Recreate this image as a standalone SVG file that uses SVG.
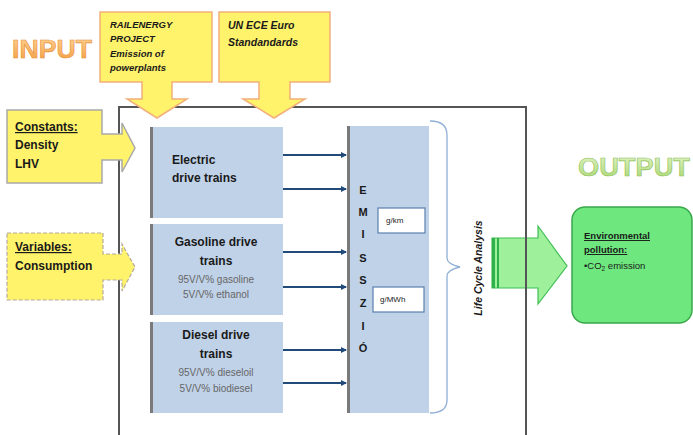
<svg xmlns="http://www.w3.org/2000/svg" width="693" height="435" viewBox="0 0 693 435">
<defs>
<linearGradient id="gIn" x1="0" y1="0" x2="0" y2="1"><stop offset="0" stop-color="#ffd79a"/><stop offset="1" stop-color="#f39a3c"/></linearGradient>
<linearGradient id="gOut" x1="0" y1="0" x2="0" y2="1"><stop offset="0" stop-color="#e4f5c8"/><stop offset="1" stop-color="#a6d66e"/></linearGradient>
<marker id="ah" markerWidth="6" markerHeight="6" refX="5" refY="3" orient="auto" markerUnits="userSpaceOnUse"><path d="M0,0 L6,3 L0,6 z" fill="#1f4a7a"/></marker>
</defs>
<style>
.yel{fill:#fff36b;stroke:#f2b07a;stroke-width:1.5}
.yelg{fill:#fff36b;stroke:#a9a9a9;stroke-width:1.5}
.yeld{fill:#fff36b;stroke:#b5a9a0;stroke-width:1.2;stroke-dasharray:4 2}
.blue{fill:#c0d2e8}
.edge{stroke:#7a7a7a;stroke-width:3}
.t{font-family:"Liberation Sans",Arial,sans-serif;fill:#1a1a1a}
.b{font-weight:bold}
.it{font-style:italic;font-weight:bold}
.g{fill:#666;font-size:10px}
.conn{stroke:#1f4a7a;stroke-width:1.8;fill:none}
</style>
<rect width="693" height="435" fill="#ffffff"/>

<!-- main frame -->
<path d="M119,435 V107 H526 V435" fill="none" stroke="#555" stroke-width="2"/>

<text x="12" y="58" font-family="Liberation Sans,Arial,sans-serif" font-weight="bold" font-size="26" textLength="80" lengthAdjust="spacingAndGlyphs" fill="url(#gIn)" stroke="#e8903a" stroke-width="0.6">INPUT</text>
<text x="578" y="176" font-family="Liberation Sans,Arial,sans-serif" font-weight="bold" font-size="26" textLength="112" lengthAdjust="spacingAndGlyphs" fill="url(#gOut)" stroke="#8fbf5a" stroke-width="0.6">OUTPUT</text>

<g id="railenergy">
<path class="yel" d="M100,12 H212 V82 H172 V99 H187 L157,118 L127,99 H142 V82 H100 Z"/>
<text class="t it" font-size="9.5"><tspan x="110" y="28">RAILENERGY</tspan><tspan x="110" y="42">PROJECT</tspan><tspan x="110" y="57">Emission of</tspan><tspan x="110" y="71">powerplants</tspan></text>
</g>
<g id="unece">
<path class="yel" d="M219,12 H330 V82 H290 V99 H305 L274,118 L243,99 H259 V82 H219 Z"/>
<text class="t it" font-size="10.5"><tspan x="228" y="29">UN ECE Euro</tspan><tspan x="228" y="46">Standandards</tspan></text>
</g>
<g id="constants">
<path class="yelg" d="M7,110 H102 V134 H122 V123 L135,148 L122,172 V160 H102 V183 H7 Z"/>
<text class="t b" font-size="12"><tspan x="15" y="131" text-decoration="underline">Constants:</tspan><tspan x="15" y="149">Density</tspan><tspan x="15" y="168">LHV</tspan></text>
</g>
<g id="variables">
<path class="yeld" d="M7,233 H103 V254 H122 V244 L135,267 L122,291 V280 H103 V300 H7 Z"/>
<text class="t b" font-size="12"><tspan x="15" y="251" text-decoration="underline">Variables:</tspan><tspan x="15" y="270">Consumption</tspan></text>
</g>

<g id="electric">
<rect class="blue" x="150" y="127" width="133" height="91"/>
<line class="edge" x1="151.5" y1="127" x2="151.5" y2="218"/>
<text class="t b" font-size="12"><tspan x="172" y="164">Electric</tspan><tspan x="172" y="182">drive trains</tspan></text>
</g>
<g id="gasoline">
<rect class="blue" x="150" y="224" width="133" height="91"/>
<line class="edge" x1="151.5" y1="224" x2="151.5" y2="315"/>
<text class="t b" font-size="12" text-anchor="middle"><tspan x="216" y="246">Gasoline drive</tspan><tspan x="216" y="265">trains</tspan></text>
<text class="t g" text-anchor="middle"><tspan x="216" y="283">95V/V% gasoline</tspan><tspan x="216" y="298">5V/V% ethanol</tspan></text>
</g>
<g id="diesel">
<rect class="blue" x="150" y="322" width="133" height="91"/>
<line class="edge" x1="151.5" y1="322" x2="151.5" y2="413"/>
<text class="t b" font-size="12" text-anchor="middle"><tspan x="216" y="339">Diesel drive</tspan><tspan x="216" y="358">trains</tspan></text>
<text class="t g" text-anchor="middle"><tspan x="216" y="376">95V/V% dieseloil</tspan><tspan x="216" y="392">5V/V% biodiesel</tspan></text>
</g>

<g id="emission">
<rect class="blue" x="347" y="126" width="82" height="287"/>
<line class="edge" x1="348.5" y1="126" x2="348.5" y2="413"/>
<text class="t b" font-size="11" text-anchor="middle"><tspan x="363" y="194">E</tspan><tspan x="363" y="216">M</tspan><tspan x="363" y="238">I</tspan><tspan x="363" y="262">S</tspan><tspan x="363" y="284">S</tspan><tspan x="363" y="307">Z</tspan><tspan x="363" y="330">I</tspan><tspan x="363" y="352">Ó</tspan></text>
<rect x="378" y="208" width="47" height="25" fill="#fff" stroke="#5a7fae" stroke-width="1.2"/>
<text class="t" font-size="8" fill="#555" x="386" y="223">g/km</text>
<rect x="373" y="287" width="51" height="25" fill="#fff" stroke="#5a7fae" stroke-width="1.2"/>
<text class="t" font-size="8" fill="#555" x="380" y="302">g/MWh</text>
</g>

<g id="connectors">
<line class="conn" x1="283" y1="155" x2="346" y2="155" marker-end="url(#ah)"/>
<line class="conn" x1="283" y1="189" x2="346" y2="189" marker-end="url(#ah)"/>
<line class="conn" x1="283" y1="252" x2="346" y2="252" marker-end="url(#ah)"/>
<line class="conn" x1="283" y1="287" x2="346" y2="287" marker-end="url(#ah)"/>
<line class="conn" x1="283" y1="350" x2="346" y2="350" marker-end="url(#ah)"/>
<line class="conn" x1="283" y1="383" x2="346" y2="383" marker-end="url(#ah)"/>
</g>

<g id="lca">
<path d="M430,121 Q447,121 447,135 V258 Q447,264 460,267 Q447,270 447,276 V400 Q447,413 430,413" fill="none" stroke="#8faed6" stroke-width="1.3"/>
<text class="t it" font-size="10.5" text-anchor="middle" transform="translate(482,268) rotate(-90)">Life Cycle Analysis</text>
</g>

<g id="greenarrow">
<path d="M492,238 H538 V226 L567,266 L538,304 V288 H492 Z" fill="#9ef09a" stroke="#3fbf55" stroke-width="1.2"/>
<rect x="492" y="238" width="3" height="50" fill="#2fb24a"/>
<rect x="497" y="238" width="2" height="50" fill="#2fb24a"/>
<line x1="526" y1="226" x2="526" y2="304" stroke="#555" stroke-width="2"/>
</g>

<g id="output">
<rect x="572" y="207" width="120" height="116" rx="13" fill="#6ee77e" stroke="#3aa84c" stroke-width="1.5"/>
<text class="t b" font-size="9.5"><tspan x="584" y="239" text-decoration="underline">Environmental</tspan><tspan x="584" y="253" text-decoration="underline">pollution:</tspan></text>
<text class="t" font-size="9.5" fill="#333" x="584" y="269">•CO<tspan font-size="6.5" dy="2">2</tspan><tspan dy="-2"> emission</tspan></text>
</g>
</svg>
